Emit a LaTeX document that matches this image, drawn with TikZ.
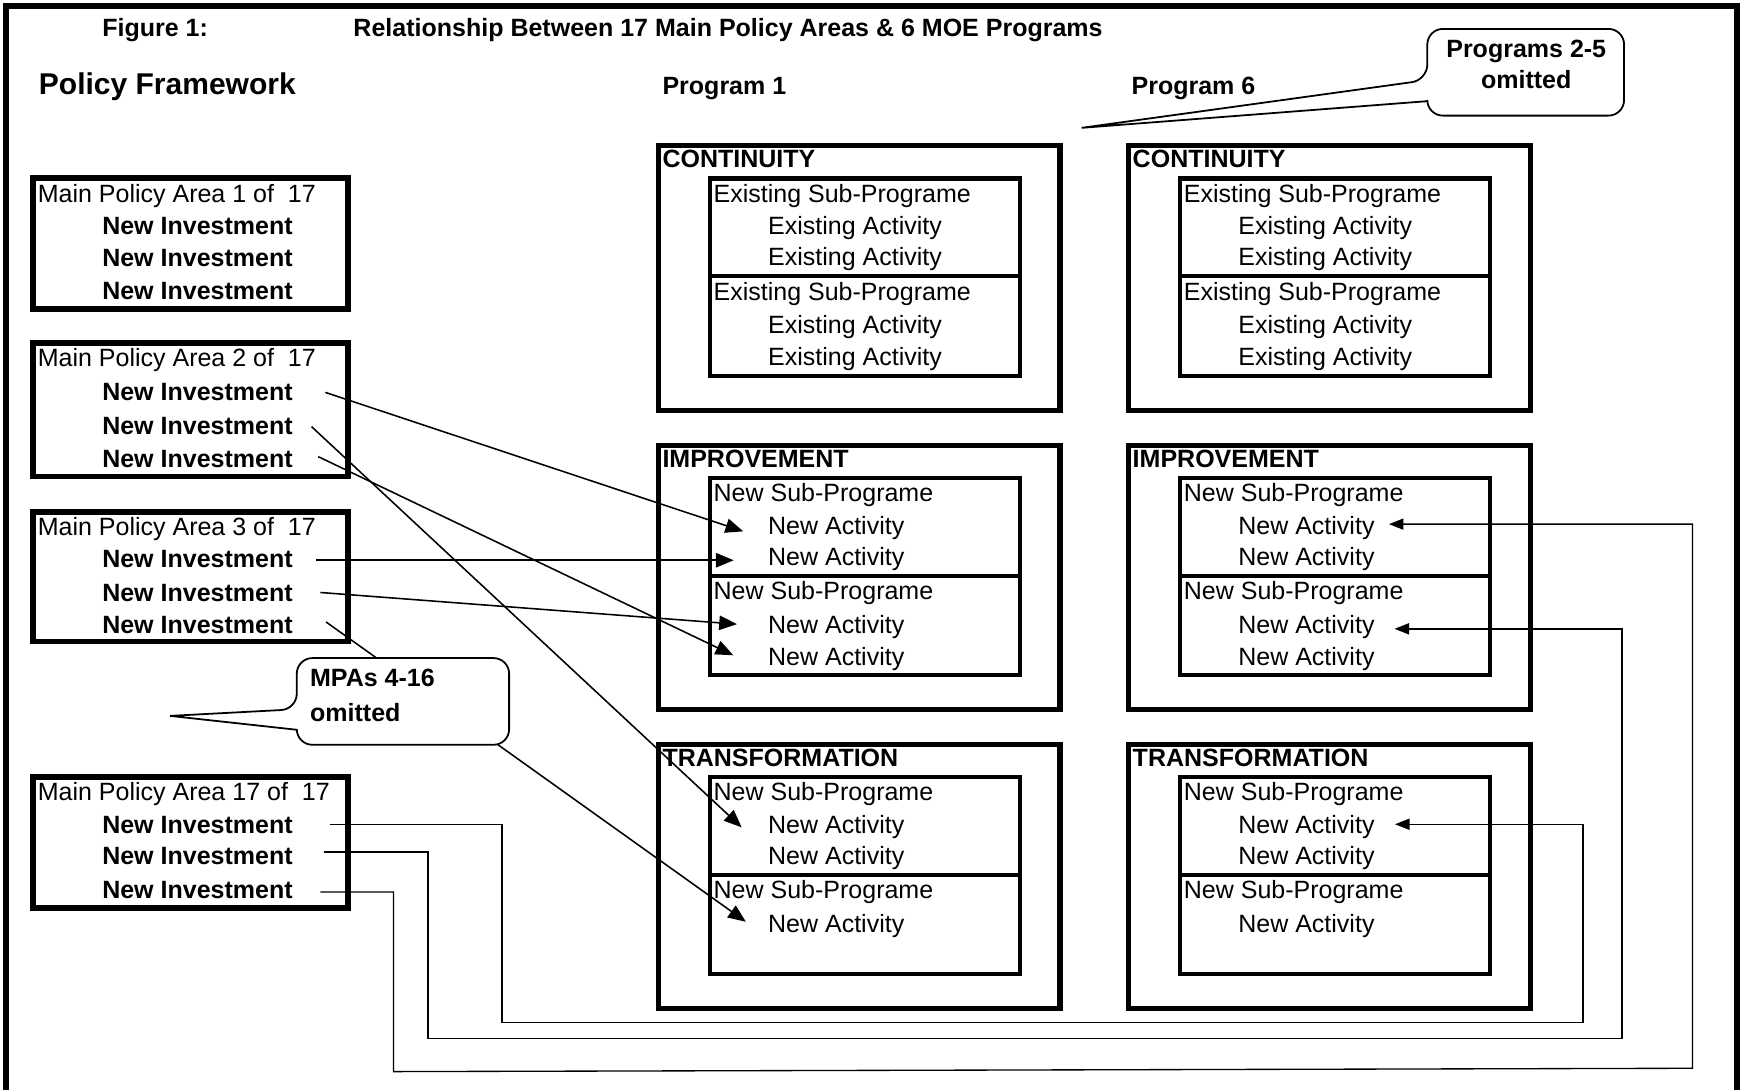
\documentclass[tikz,border=0pt]{standalone}
\usepackage{fontspec}
\setmainfont{Liberation Sans}
\usetikzlibrary{arrows.meta}
\newcommand\myfs{\fontsize{11.25pt}{13.5pt}\selectfont}
\newcommand\mybfs{\fontsize{11.25pt}{13.5pt}\selectfont\bfseries}
\begin{document}
\begin{tikzpicture}[x=0.5pt,y=-0.5pt,
  txt/.style={inner sep=0pt,outer sep=0pt,anchor=base west,text height=8pt,text depth=0pt,font=\myfs},
  btxt/.style={txt,font=\mybfs},
  mpabox/.style={draw,line width=2.5pt,inner sep=0pt,outer sep=0pt,anchor=north west,minimum width=141.75pt},
  outbox/.style={draw,line width=2.4pt,inner sep=0pt,outer sep=0pt,anchor=north west,minimum width=180.6pt,minimum height=119pt},
  subbox/.style={draw,line width=1.9pt,inner sep=0pt,outer sep=0pt,anchor=north west,minimum width=139.6pt},
  conn/.style={line width=0.7pt,-{Triangle[length=8pt,width=6.5pt]}},
  connr/.style={line width=0.6pt,-{Triangle[length=6.5pt,width=5pt]}},
  callout/.style={draw,line width=0.8pt,fill=white}]
\useasboundingbox (0,0) rectangle (1568,980);
% page frame
\draw[line width=2.7pt] (5.1,990) -- (5.1,5.7) -- (1563,5.7) -- (1563,990);
% headers
\node[btxt] (fig) at (92,33) {Figure 1:};
\node[btxt] (ttl) at (318,33) {Relationship Between 17 Main Policy Areas \& 6 MOE Programs};
\node[txt,font=\fontsize{13.5pt}{16pt}\selectfont\bfseries,text height=9.7pt] (pf) at (35,85) {Policy Framework};
\node[btxt] (pg1) at (596,85) {Program 1};
\node[btxt] (pg6) at (1018,85) {Program 6};
% main policy areas
\node[mpabox,minimum height=59pt] (m1) at (29.5,160) {};
\node[txt] (m1-t) at (34,182) {Main Policy Area 1 of\ \ 17};
\node[btxt] (m1-n1) at (92,211) {New Investment};
\node[btxt] (m1-n2) at (92,240) {New Investment};
\node[btxt] (m1-n3) at (92,269) {New Investment};
\node[mpabox,minimum height=60pt] (m2) at (29.5,308.7) {};
\node[txt] (m2-t) at (34,330) {Main Policy Area 2 of\ \ 17};
\node[btxt] (m2-n1) at (92,360) {New Investment};
\node[btxt] (m2-n2) at (92,390.5) {New Investment};
\node[btxt] (m2-n3) at (92,420.5) {New Investment};
\node[mpabox,minimum height=58.4pt] (m3) at (29.5,460.4) {};
\node[txt] (m3-t) at (34,481.5) {Main Policy Area 3 of\ \ 17};
\node[btxt] (m3-n1) at (92,510.5) {New Investment};
\node[btxt] (m3-n2) at (92,541) {New Investment};
\node[btxt] (m3-n3) at (92,569.5) {New Investment};
\node[mpabox,minimum height=58.9pt] (m17) at (29.5,699) {};
\node[txt] (m17-t) at (34,720) {Main Policy Area 17 of\ \ 17};
\node[btxt] (m17-n1) at (92,750) {New Investment};
\node[btxt] (m17-n2) at (92,778) {New Investment};
\node[btxt] (m17-n3) at (92,808) {New Investment};
% programs
\foreach \p/\dx in {1/0,6/423}{
  \foreach \s/\T/\lab/\w in {c/131/CONTINUITY/Existing,i/400.5/IMPROVEMENT/New,t/669.5/TRANSFORMATION/New}{
    \node[outbox] (p\p-\s) at (592.4+\dx,\T) {};
    \node[subbox,minimum height=44pt] (p\p-\s1) at (638.4+\dx,\T+29.5) {};
    \node[subbox,minimum height=44.75pt] (p\p-\s2) at (638.4+\dx,\T+117.5) {};
    \node[btxt] (p\p-\s-lab) at (596+\dx,\T+20) {\lab};
    \node[txt] (p\p-\s1-t) at (642+\dx,\T+51) {\w\ Sub-Programe};
    \node[txt] (p\p-\s1-a1) at (691+\dx,\T+80) {\w\ Activity};
    \node[txt] (p\p-\s1-a2) at (691+\dx,\T+108) {\w\ Activity};
    \node[txt] (p\p-\s2-t) at (642+\dx,\T+139) {\w\ Sub-Programe};
    \node[txt] (p\p-\s2-a1) at (691+\dx,\T+169) {\w\ Activity};
  }
  \foreach \s/\T/\w in {c/131/Existing,i/400.5/New}{
    \node[txt] (p\p-\s2-a2) at (691+\dx,\T+198) {\w\ Activity};
  }
}
% connectors to Program 1
\draw[conn] ([shift={(29.4,1)}]m2-n1.east) -- ([shift={(-22.4,5.5)}]p1-i1-a1.west);
\draw[conn] ([shift={(17,1.3)}]m2-n2.east) -- ([shift={(-23.8,2.8)}]p1-t1-a1.west);
\draw[conn] ([shift={(23,-1.7)}]m2-n3.east) -- ([shift={(-31.3,-1)}]p1-i2-a2.west);
\draw[conn] ([shift={(21,1.5)}]m3-n1.east) -- ([shift={(-31,3.5)}]p1-i1-a2.west);
\draw[conn] ([shift={(25,0)}]m3-n2.east) -- ([shift={(-28,0)}]p1-i2-a1.west);
\draw[conn] ([shift={(30,-2)}]m3-n3.east) -- ([shift={(-20,-1.3)}]p1-t2-a1.west);
% connectors to Program 6
\coordinate (s1) at ([shift={(34,-0.5)}]m17-n1.east);
\coordinate (a1) at (451.5,920);
\coordinate (k1) at (1424,920);
\draw[connr] (s1) -| (a1) -- (k1) |- ([shift={(18.5,0)}]p6-t1-a1.east);
\coordinate (s2) at ([shift={(28,-3.5)}]m17-n2.east);
\coordinate (a2) at (385,934);
\coordinate (k2) at (1459,934);
\draw[connr] (s2) -| (a2) -- (k2) |- ([shift={(18,4.2)}]p6-i2-a1.east);
\coordinate (s3) at ([shift={(25,2.4)}]m17-n3.east);
\coordinate (a3) at (354,964);
\coordinate (k3) at (1522.5,961);
\draw[connr] (s3) -| (a3) -- (k3) |- ([shift={(13,-1)}]p6-i1-a1.east);
% callouts
\draw[callout,rounded corners=7pt] (1284,91) -- (1284,104) -- (1461,104) -- (1461,26) -- (1284,26) -- (1284,72) [sharp corners] -- (973,115) -- cycle;
\node[btxt,anchor=base] (c25a) at (1373,52) {Programs 2-5};
\node[btxt,anchor=base] (c25b) at (1373,80) {omitted};
\draw[callout,rounded corners=7pt] (267,656.5) -- (267,670) -- (458,670) -- (458,592) -- (267,592) -- (267,638) [sharp corners] -- (153,644) -- cycle;
\node[btxt] (c416a) at (279,618) {MPAs 4-16};
\node[btxt] (c416b) at (279,649) {omitted};
\end{tikzpicture}
\end{document}
